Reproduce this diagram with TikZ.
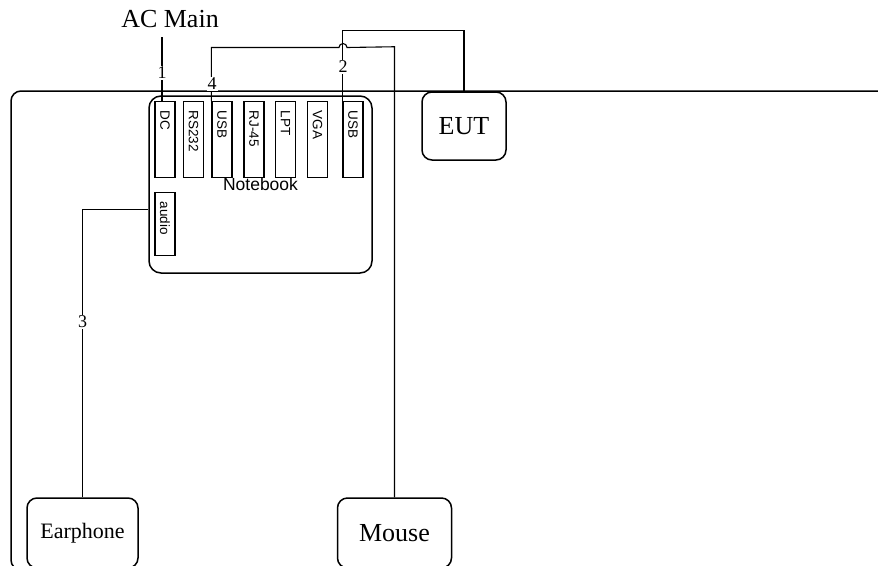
\documentclass[tikz,border=0pt]{standalone}
\usepackage{fontspec}
\setmainfont{Liberation Serif}
\newfontfamily\arialf{Liberation Sans}
\begin{document}
\begin{tikzpicture}[x=1pt,y=-1pt,
  box/.style={draw, line width=1.5pt, rounded corners=10pt, inner sep=0pt},
  port/.style={draw, line width=1.4pt, rotate=-90, anchor=west, minimum height=20pt, inner xsep=9pt, inner ysep=0pt, align=left, font=\arialf\fontsize{13.5}{15}\selectfont},
  wire/.style={line width=1.1pt},
  lbl/.style={fill=white, inner sep=1pt, font=\fontsize{18}{20}\selectfont}]
\useasboundingbox (0,0) rectangle (878,565);
% outer frame
\draw[line width=1.5pt, rounded corners=10pt] (11,91) rectangle (900,570);
% notebook
\node[box, rounded corners=12pt, minimum width=223pt, minimum height=177pt, font=\arialf\fontsize{17.5}{19}\selectfont] (nb) at (260.5,184.5) {Notebook};
% ports
\node[port, text width=58pt] (dc) at (165,101) {DC};
\node[port, text width=58pt] (rs) at (193.5,101) {RS232};
\node[port, text width=58pt] (usba) at (222,101) {USB};
\node[port, text width=58pt] (rj) at (254,101) {RJ-45};
\node[port, text width=58pt] (lpt) at (285.5,101) {LPT};
\node[port, text width=58pt] (vga) at (317.5,101) {VGA};
\node[port, text width=58pt] (usbb) at (353,101) {USB};
\node[port, text width=45pt] (audio) at (165,192) {audio};
% devices
\node[box, minimum width=84pt, minimum height=68pt, font=\fontsize{26}{30}\selectfont] (eut) at (464,126) {EUT};
\node[box, minimum width=111pt, minimum height=70pt, font=\fontsize{22}{26}\selectfont] (ear) at (82.5,533) {Earphone};
\node[box, minimum width=114pt, minimum height=70pt, font=\fontsize{26}{30}\selectfont] (mouse) at (394.5,533) {Mouse};
\node[font=\fontsize{26}{30}\selectfont] (ac) at (170,19) {AC Main};
% wires
\coordinate (acw) at (162,37);
\draw[wire] (acw) -- ([xshift=-3pt]dc.west);
\node[lbl] (l1) at (162,73) {1};
\draw[wire] (eut.north) -- ++(0,-60.5) -| (usbb.south west);
\node[lbl] (l2) at (343,67) {2};
\draw[wire] (mouse.north) -- ++(0,-450.5) -- (347,47.5) arc[start angle=0, end angle=180, radius=4pt] -| (usba.south west);
\node[lbl] (l4) at (212,84) {4};
\draw[wire] (ear.north) |- ([yshift=-25pt]nb.west);
\node[lbl] (l3) at (82.5,322) {3};
\end{tikzpicture}
\end{document}
